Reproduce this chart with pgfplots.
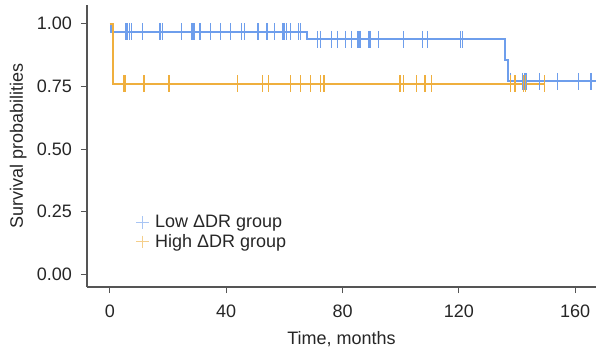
\documentclass[border=0pt]{standalone}
\usepackage{fontspec}
\setmainfont{Liberation Sans}
\usepackage{pgfplots}
\pgfplotsset{compat=1.18}
\definecolor{lowc}{HTML}{6E9EEC}
\definecolor{highc}{HTML}{EFAF3E}
\definecolor{axc}{HTML}{555555}
\begin{document}
\fontsize{18}{21}\selectfont
\begin{tikzpicture}
\begin{axis}[
  at={(0pt,0pt)}, anchor=south west,
  scale only axis, width=509pt, height=282pt,
  xmin=-7.9, xmax=167.2, ymin=-0.05, ymax=1.074,
  axis x line*=bottom, axis y line*=left,
  axis line style={axc, line width=1.4pt},
  xtick={0,40,80,120,160},
  ytick={0,0.25,0.5,0.75,1},
  yticklabel style={/pgf/number format/fixed, /pgf/number format/fixed zerofill, /pgf/number format/precision=2, xshift=-3pt},
  /pgf/number format/assume math mode=true,
  tick align=outside, major tick length=6pt,
  tick style={axc, line width=1pt},
  ticklabel style={font=\fontsize{18}{21}\selectfont, text=black!85},
  xticklabel style={yshift=-6pt},
  xlabel={Time, months}, ylabel={Survival probabilities},
  label style={font=\fontsize{18}{21}\selectfont, text=black!85},
  xlabel style={yshift=-1.5pt},
  ylabel style={yshift=-2pt},
  legend style={draw=none, fill=none, at={(0.092,0.194)}, anchor=west,
     font=\fontsize{18}{21}\selectfont, text=black!85, row sep=0pt,
     inner sep=2pt},
  legend cell align=left,
  legend image code/.code={\path[draw=none, fill=none] (0pt,0pt) -- (17pt,0pt);
     \draw[#1, mark=+, mark size=6.3pt, mark options={line width=1.2pt, opacity=0.6}] plot coordinates {(6.3pt,0pt)};},
]
% Low group survival curve
\addplot[const plot, lowc, line width=2pt, forget plot] coordinates {
 (0,1) (0.5,0.968) (67.8,0.937) (135.9,0.853) (136.8,0.77) (167.2,0.77)
};
% High group survival curve
\addplot[const plot, highc, line width=2pt, forget plot] coordinates {
 (0,1) (1.0,0.761) (149.4,0.761)
};
% Low group censor marks
\addplot[only marks, mark=|, mark size=8.5pt, lowc, mark options={line width=1.2pt}] coordinates {
 (5.5,0.968) (6.1,0.968) (6.7,0.968) (7.5,0.968) (11.3,0.968) (17.2,0.968) (18.2,0.968)
 (24.7,0.968) (28.2,0.968) (28.6,0.968) (29.0,0.968) (31.0,0.968) (34.7,0.968) (37.9,0.968)
 (41.4,0.968) (45.2,0.968) (46.3,0.968) (50.9,0.968) (54.0,0.968) (56.7,0.968) (59.5,0.968)
 (60.1,0.968) (60.7,0.968) (62.1,0.968) (64.9,0.968) (65.5,0.968)
 (71.3,0.937) (72.4,0.937) (76.1,0.937) (78.4,0.937) (81.0,0.937) (83.0,0.937) (85.3,0.937)
 (86.0,0.937) (89.1,0.937) (89.7,0.937) (92.5,0.937) (101.1,0.937) (107.5,0.937) (109.2,0.937)
 (120.7,0.937) (121.3,0.937)
 (137.9,0.77) (141.9,0.77) (142.5,0.77) (143.1,0.77) (147.7,0.77) (154.0,0.77) (161.2,0.77) (165.5,0.77)
};
\addlegendentry{Low ΔDR group}
% High group censor marks
\addplot[only marks, mark=|, mark size=8.5pt, highc, mark options={line width=1.2pt}] coordinates {
 (4.6,0.761) (5.2,0.761) (11.7,0.761) (20.3,0.761) (43.9,0.761) (52.5,0.761) (54.4,0.761)
 (62.1,0.761) (65.5,0.761) (69.0,0.761) (72.4,0.761) (73.6,0.761) (99.8,0.761) (101.1,0.761)
 (105.5,0.761) (108.4,0.761) (110.7,0.761) (137.9,0.761) (139.3,0.761) (142.3,0.761)
 (142.9,0.761) (149.4,0.761)
};
\addlegendentry{High ΔDR group}
\end{axis}
\pgfresetboundingbox
\useasboundingbox (-87pt,-61pt) rectangle (509pt,287pt);
\end{tikzpicture}
\end{document}
